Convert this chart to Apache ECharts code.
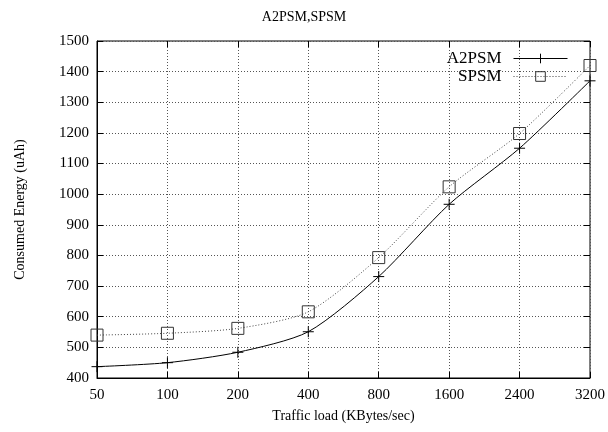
<!DOCTYPE html>
<html>
<head>
<meta charset="utf-8">
<script src="https://cdn.jsdelivr.net/npm/echarts@6/dist/echarts.min.js"></script>
<style>
  html, body { margin: 0; padding: 0; background: #fff; }
  #main { width: 608px; height: 432px; }
</style>
</head>
<body>
<div id="main"></div>
<script>
var loads = ['50', '100', '200', '400', '800', '1600', '2400', '3200'];
var a2psm = [437, 450, 484, 551, 731, 967, 1150, 1370];
var spsm = [540, 546, 562, 616, 793, 1024, 1198, 1420];
var yTicks = { min: 400, max: 1500, step: 100 };

var myChart = echarts.init(document.getElementById('main'));
var serif = 'Liberation Serif';
var plus = 'path://M0,5L10,5M5,0L5,10';
var square = 'path://M0,0L10,0L10,10L0,10Z';

var option = {
    animation: false,
    title: {
        text: 'A2PSM,SPSM',
        left: 'center',
        top: 5,
        textStyle: { fontFamily: serif, fontSize: 14, fontWeight: 'normal', color: '#000' }
    },
    legend: {
        orient: 'vertical',
        right: 35,
        top: 45,
        itemGap: 1,
        itemWidth: 54,
        itemHeight: 12,
        align: 'right',
        lineStyle: { width: 1 },
        itemStyle: { borderWidth: 1 },
        textStyle: {
            fontFamily: serif, fontSize: 17, color: '#000', width: 62, align: 'right',
            padding: [0, 7, 0, 0]
        },
        data: ['A2PSM', 'SPSM']
    },
    grid: {
        left: 97, right: 18, top: 41, bottom: 54,
        show: true, borderColor: '#000', borderWidth: 1
    },
    xAxis: [{
        type: 'category',
        data: loads,
        boundaryGap: false,
        name: 'Traffic load (KBytes/sec)',
        nameLocation: 'middle',
        nameGap: 31,
        nameTextStyle: { fontFamily: serif, fontSize: 14, color: '#000' },
        axisLine: { lineStyle: { color: '#000' } },
        axisTick: { inside: true, length: 6, lineStyle: { color: '#000' } },
        axisLabel: { fontFamily: serif, fontSize: 15, color: '#000', margin: 10 },
        splitLine: { show: true, lineStyle: { color: '#555', type: [1, 2], width: 1 } }
    }, {
        type: 'category',
        data: loads,
        boundaryGap: false,
        position: 'top',
        axisLine: { show: false },
        axisTick: { inside: true, length: 6, lineStyle: { color: '#000' } },
        axisLabel: { show: false }
    }],
    yAxis: [{
        type: 'value',
        min: yTicks.min,
        max: yTicks.max,
        interval: yTicks.step,
        name: 'Consumed Energy (uAh)',
        nameLocation: 'middle',
        nameGap: 70,
        nameTextStyle: { fontFamily: serif, fontSize: 14, color: '#000' },
        axisLine: { show: true, lineStyle: { color: '#000' } },
        axisTick: { show: true, inside: true, length: 6, lineStyle: { color: '#000' } },
        axisLabel: {
            fontFamily: serif, fontSize: 15, color: '#000', margin: 8,
            formatter: function (v) { return String(v); }
        },
        splitLine: { show: true, lineStyle: { color: '#555', type: [1, 2], width: 1 } }
    }, {
        type: 'value',
        min: yTicks.min,
        max: yTicks.max,
        interval: yTicks.step,
        position: 'right',
        axisLine: { show: false },
        axisTick: { show: true, inside: true, length: 6, lineStyle: { color: '#000' } },
        axisLabel: { show: false },
        splitLine: { show: false }
    }],
    series: [{
        name: 'A2PSM',
        type: 'line',
        data: a2psm,
        smooth: 0.25,
        symbol: plus,
        symbolSize: 11,
        showAllSymbol: true,
        lineStyle: { color: '#000', width: 1 },
        itemStyle: { color: '#000', borderColor: '#000', borderWidth: 1 }
    }, {
        name: 'SPSM',
        type: 'line',
        data: spsm,
        smooth: 0.25,
        symbol: square,
        symbolSize: 12,
        showAllSymbol: true,
        lineStyle: { color: '#444', width: 1, type: [1, 2] },
        itemStyle: { color: 'rgba(0,0,0,0)', borderColor: '#333', borderWidth: 1 }
    }]
};
myChart.setOption(option);
</script>
</body>
</html>
